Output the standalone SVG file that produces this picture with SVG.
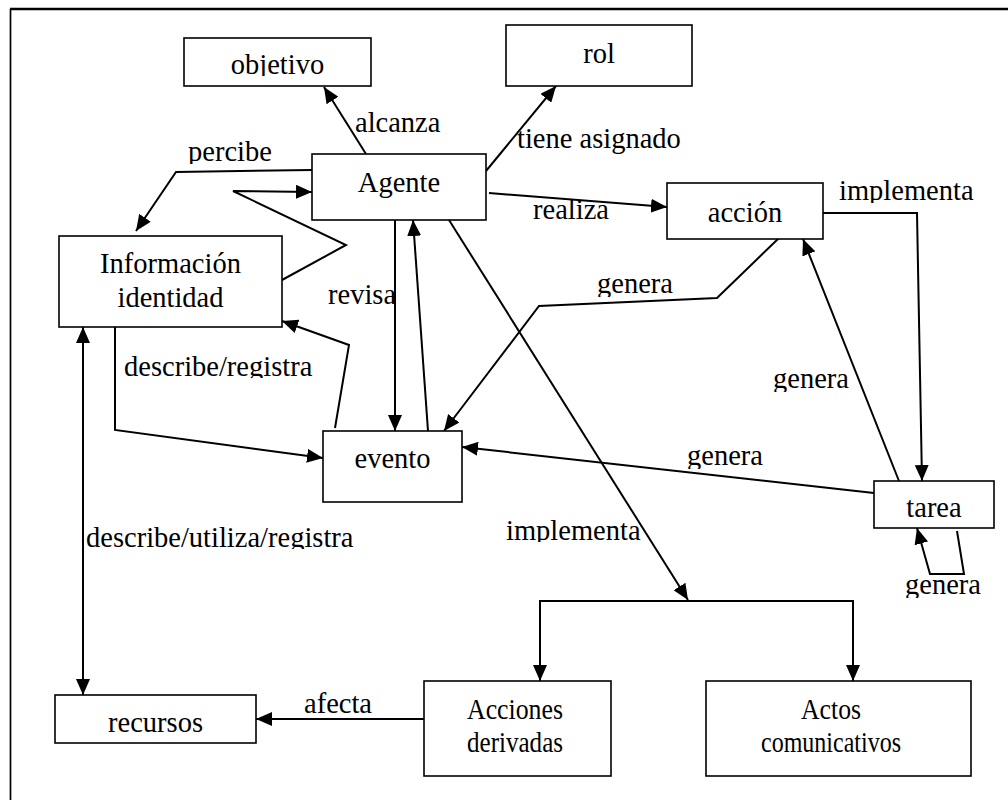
<svg xmlns="http://www.w3.org/2000/svg" width="1008" height="800" viewBox="0 0 1008 800">
  <defs>
    <style>
      .box { fill: #ffffff; stroke: #000000; stroke-width: 1.6; }
      .edge { fill: none; stroke: #000000; stroke-width: 2; stroke-linejoin: miter; }
      .arr { marker-end: url(#head); }
      .both { marker-start: url(#tail); marker-end: url(#head); }
      text { font-family: "Liberation Serif", "Times New Roman", serif; font-size: 28.5px; fill: #000000; }
      .c { text-anchor: middle; }
    </style>
    <marker id="head" markerUnits="userSpaceOnUse" markerWidth="17" markerHeight="14" refX="16" refY="7" orient="auto">
      <path d="M0,0 L16,7 L0,14 z" fill="#000000"/>
    </marker>
    <marker id="tail" markerUnits="userSpaceOnUse" markerWidth="17" markerHeight="14" refX="16" refY="7" orient="auto-start-reverse">
      <path d="M0,0 L16,7 L0,14 z" fill="#000000"/>
    </marker>
    <!-- label boxes cut off the descenders of some words -->
    <clipPath id="cl-objetivo"><rect x="185" y="39" width="185" height="37"/></clipPath>
    <clipPath id="cl-percibe"><rect x="180" y="130" width="110" height="34"/></clipPath>
    <clipPath id="cl-impl1"><rect x="830" y="170" width="170" height="33"/></clipPath>
    <clipPath id="cl-descreg"><rect x="118" y="345" width="210" height="33"/></clipPath>
    <clipPath id="cl-gen1"><rect x="590" y="262" width="90" height="35"/></clipPath>
    <clipPath id="cl-gen2"><rect x="765" y="357" width="90" height="35"/></clipPath>
    <clipPath id="cl-gen3"><rect x="680" y="434" width="90" height="35"/></clipPath>
    <clipPath id="cl-dur"><rect x="84" y="516" width="290" height="33"/></clipPath>
    <clipPath id="cl-impl2"><rect x="500" y="508" width="150" height="34"/></clipPath>
    <clipPath id="cl-gen4"><rect x="898" y="563" width="90" height="35"/></clipPath>
  </defs>

  <rect x="0" y="0" width="1008" height="800" fill="#ffffff"/>

  <!-- page frame -->
  <g id="frame">
    <line x1="10" y1="9" x2="1010" y2="9" stroke="#000000" stroke-width="2.6"/>
    <line x1="10.5" y1="9" x2="10.5" y2="802" stroke="#000000" stroke-width="1.7"/>
  </g>

  <g id="connectors">
    <path class="edge arr" d="M366,154 L324,87"/>
    <path class="edge arr" d="M486,171 L556,86"/>
    <path class="edge arr" d="M489,193 L667,207"/>
    <path class="edge arr" d="M312,170 L176,172 L136,231"/>
    <path class="edge arr" d="M282,280 L346,245 L233,191 L312,192"/>
    <path class="edge arr" d="M395,220 L395,431"/>
    <path class="edge arr" d="M428,431 L413,220"/>
    <path class="edge arr" d="M449,220 L688,600"/>
    <path class="edge" d="M540,601 L853,601"/>
    <path class="edge arr" d="M540,600 L540,681"/>
    <path class="edge arr" d="M853,600 L853,681"/>
    <path class="edge arr" d="M424,719 L256,719"/>
    <path class="edge both" d="M83,327 L83,695"/>
    <path class="edge arr" d="M115,327 L115,430 L323,458"/>
    <path class="edge arr" d="M335,428 L349,345 L282,321"/>
    <path class="edge arr" d="M779,238 L717,298 L539,306 L444,431"/>
    <path class="edge arr" d="M823,213 L917,213 L922,481"/>
    <path class="edge arr" d="M899,481 L803,239"/>
    <path class="edge arr" d="M874,493 L462,447"/>
    <path class="edge arr" d="M957,531 L964,574 L930,574 L917,528"/>
  </g>

  <g id="labels">
    <text x="355" y="132">alcanza</text>
    <text x="188" y="161" clip-path="url(#cl-percibe)">percibe</text>
    <text x="517" y="148">tiene asignado</text>
    <text x="533" y="219">realiza</text>
    <text x="839" y="200" clip-path="url(#cl-impl1)">implementa</text>
    <text x="328" y="304">revisa</text>
    <text x="124" y="376" clip-path="url(#cl-descreg)">describe/registra</text>
    <text x="597" y="293" clip-path="url(#cl-gen1)">genera</text>
    <text x="773" y="388" clip-path="url(#cl-gen2)">genera</text>
    <text x="687" y="465" clip-path="url(#cl-gen3)">genera</text>
    <text x="86" y="547" clip-path="url(#cl-dur)">describe/utiliza/registra</text>
    <text x="304" y="713">afecta</text>
    <text x="506" y="540" clip-path="url(#cl-impl2)">implementa</text>
    <text x="905" y="594" clip-path="url(#cl-gen4)">genera</text>
  </g>

  <g id="objetivo">
    <rect class="box" x="184" y="38" width="187" height="48"/>
    <text class="c" x="277.5" y="74" clip-path="url(#cl-objetivo)">objetivo</text>
  </g>
  <g id="rol">
    <rect class="box" x="506" y="25" width="186" height="61"/>
    <text class="c" x="599" y="63">rol</text>
  </g>
  <g id="agente">
    <rect class="box" x="312" y="154" width="174" height="66"/>
    <text class="c" x="399" y="192">Agente</text>
  </g>
  <g id="accion">
    <rect class="box" x="667" y="183" width="156" height="56"/>
    <text class="c" x="745" y="222">acción</text>
  </g>
  <g id="informacion">
    <rect class="box" x="59" y="236" width="223" height="91"/>
    <text class="c" x="170.5" y="273">Información</text>
    <text class="c" x="170.5" y="307">identidad</text>
  </g>
  <g id="evento">
    <rect class="box" x="323" y="431" width="139" height="71"/>
    <text class="c" x="392.5" y="468">evento</text>
  </g>
  <g id="tarea">
    <rect class="box" x="874" y="481" width="120" height="47"/>
    <text class="c" x="934" y="517">tarea</text>
  </g>
  <g id="recursos">
    <rect class="box" x="55" y="695" width="201" height="48"/>
    <text class="c" x="155.5" y="732">recursos</text>
  </g>
  <g id="acciones-derivadas">
    <rect class="box" x="424" y="681" width="187" height="95"/>
    <text class="c" x="515" y="719" textLength="96" lengthAdjust="spacingAndGlyphs">Acciones</text>
    <text class="c" x="515" y="752" textLength="96" lengthAdjust="spacingAndGlyphs">derivadas</text>
  </g>
  <g id="actos-comunicativos">
    <rect class="box" x="706" y="681" width="265" height="95"/>
    <text class="c" x="831" y="719" textLength="60" lengthAdjust="spacingAndGlyphs">Actos</text>
    <text class="c" x="831" y="752" textLength="140" lengthAdjust="spacingAndGlyphs">comunicativos</text>
  </g>
</svg>
